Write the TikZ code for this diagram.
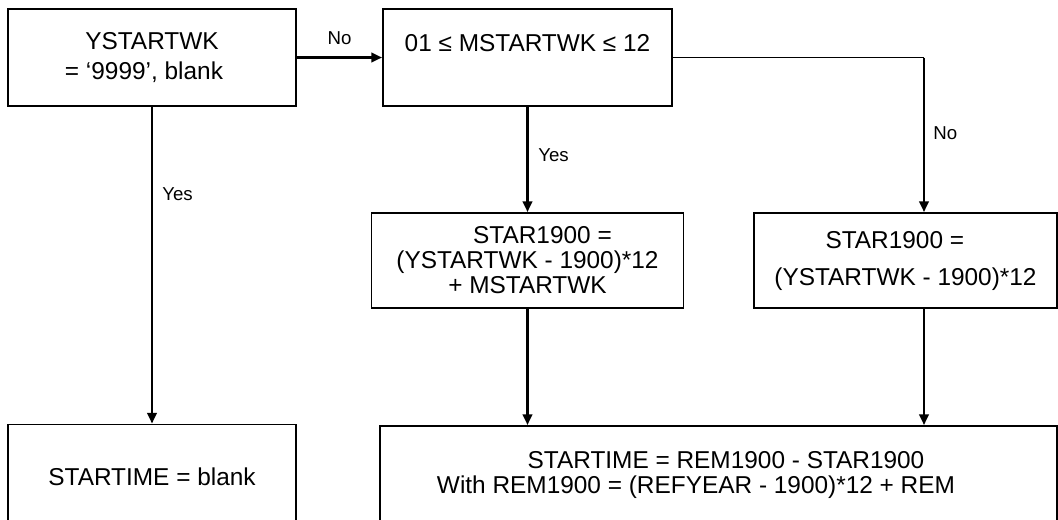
\documentclass[tikz,border=0pt]{standalone}
\usepackage{fontspec}
\setmainfont{Liberation Sans}
\usetikzlibrary{arrows.meta,positioning}

\begin{document}
\begin{tikzpicture}[x=0.75pt,y=-0.75pt,
  box/.style={draw,line width=1.4pt,align=center,inner sep=0pt,font=\fontsize{18.3}{18.75}\selectfont},
  arr/.style={line width=1.9pt,-{Triangle[length=8pt,width=7pt]}},
  lbl/.style={font=\fontsize{14}{16}\selectfont,inner sep=0pt}]
\useasboundingbox (0,0) rectangle (1058,519);

% decision boxes
\node[box,minimum width=216pt,minimum height=72.75pt] (ystart) at (152,57.5)
  {YSTARTWK\\[3.75pt]= ‘9999’, blank\hspace*{12pt}\mbox{}};
\node[box,minimum width=216.75pt,minimum height=72.75pt] (mstart) at (527.5,57.5)
  {01 ≤ MSTARTWK ≤ 12\\[3.75pt]~};

% computation boxes
\node[box,minimum width=234pt,minimum height=71.25pt] (starmon) at (527.5,260.5)
  {\hspace*{22.5pt}STAR1900 =\\(YSTARTWK - 1900)*12\\+ MSTARTWK};
\node[box,minimum width=227.25pt,minimum height=71.25pt] (staryr) at (905.5,260.5)
  {STAR1900 =\hspace*{16pt}\mbox{}\\[9pt](YSTARTWK - 1900)*12};

% result boxes (bottom edge runs off the page)
\node[box,minimum width=216pt,minimum height=78pt] (blank) at (152,476.5)
  {STARTIME = blank};
\node[box,minimum width=507.75pt,minimum height=78pt] (stime) at (718.5,478)
  {\hspace*{11.25pt}STARTIME = REM1900 - STAR1900\\With REM1900 = (REFYEAR - 1900)*12 + REM\hspace*{33.75pt}\mbox{}\\[-10pt]~};

\coordinate (bend) at (924,57.5);

% connectors
\draw[arr] (ystart.east) -- (mstart.west) node[lbl,midway,above=9pt] (no1) {No};
\draw[arr] (ystart.south) -- (blank.north);
\node[lbl,anchor=west] (yes1) at (162,194) {Yes};
\draw[arr] (mstart.south) -- (starmon.north);
\node[lbl,anchor=west] (yes2) at (538,155) {Yes};
\draw[line width=0.9pt] (mstart.east) -- (bend);
\draw[arr] (bend) -- (bend |- staryr.north);
\node[lbl,anchor=west] (no2) at (933,133) {No};
\draw[arr] (starmon.south) -- (starmon.south |- stime.north);
\draw[arr] (bend |- staryr.south) -- (bend |- stime.north);
\end{tikzpicture}
\end{document}
